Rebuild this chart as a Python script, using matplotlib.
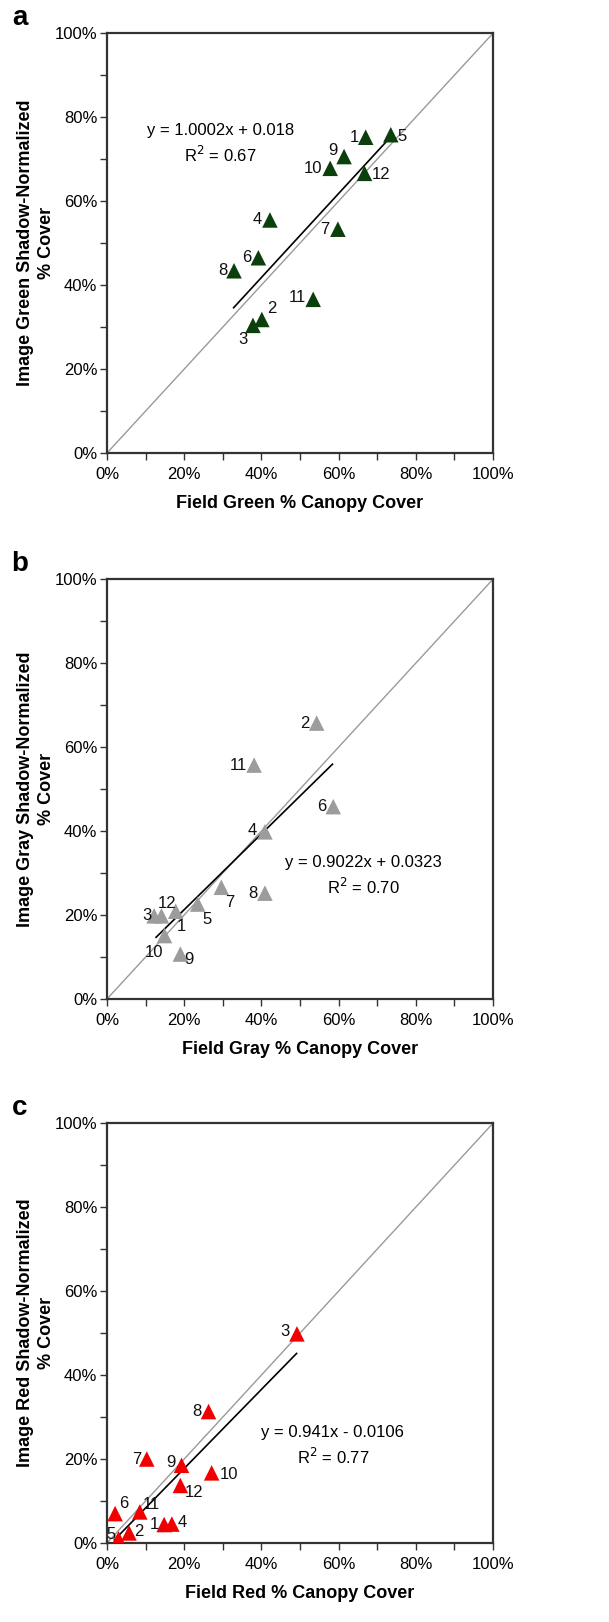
import matplotlib
matplotlib.use("Agg")
import matplotlib.pyplot as plt
import numpy as np
from matplotlib.ticker import MultipleLocator, PercentFormatter

plt.rcParams['font.family'] = ['Liberation Sans', 'DejaVu Sans']

# ---- data (percent) ----
ids = ["1", "2", "3", "4", "5", "6", "7", "8", "9", "10", "11", "12"]

green_field = [67.0, 40.1, 37.8, 42.2, 73.5, 39.2, 59.8, 32.9, 61.4, 57.8, 53.4, 66.7]
green_image = [75.2, 31.8, 30.4, 55.5, 75.8, 46.5, 53.3, 43.4, 70.6, 67.8, 36.6, 66.6]
green_fit = (1.0002, 0.018)
green_fit_range = (32.8, 72.4)
green_r2 = "0.67"

gray_field = [17.8, 54.3, 12.2, 40.9, 23.5, 58.6, 29.6, 40.9, 19.0, 14.9, 38.1, 14.1]
gray_image = [20.9, 65.7, 19.8, 39.8, 22.6, 45.8, 26.6, 25.2, 10.7, 15.1, 55.7, 19.8]
gray_fit = (0.9022, 0.0323)
gray_fit_range = (12.7, 58.4)
gray_r2 = "0.70"

red_field = [14.8, 5.7, 49.2, 16.8, 3.0, 2.1, 10.3, 26.3, 19.3, 27.1, 8.5, 19.0]
red_image = [4.4, 2.4, 49.8, 4.5, 1.0, 7.0, 20.0, 31.3, 18.5, 16.7, 7.4, 13.7]
red_fit = (0.941, -0.0106)
red_fit_range = (1.9, 49.1)
red_r2 = "0.77"

# label offsets (points) and alignment for each point
L, R = 'right', 'left'
green_lab = {"1": (-5, 0, L), "2": (4, 8, R), "3": (-4, -10, L), "4": (-6, 0, L),
             "5": (5, -1, R), "6": (-5, 0, L), "7": (-6, 0, L), "8": (-5, 0, L),
             "9": (-5, 4, L), "10": (-6, 0, L), "11": (-5, 1, L), "12": (5, -1, R)}
gray_lab = {"1": (1, -11, R), "2": (-5, 0, L), "3": (-2, 0, L), "4": (-6, 1, L),
            "5": (3, -11, R), "6": (-5, 0, L), "7": (3, -11, R), "8": (-5, 0, L),
            "9": (3, -4, R), "10": (-1, -12, L), "11": (-5, 0, L), "12": (-3, 9, R)}
red_lab = {"1": (-4, 0, L), "2": (4, 1, R), "3": (-5, 2, L), "4": (4, 1, R),
           "5": (-2, 3, L), "6": (3, 7, R), "7": (-4, 0, L), "8": (-5, 0, L),
           "9": (-4, 2, L), "10": (6, -1, R), "11": (2, 5, R), "12": (3, -5, R)}

panels = [
    ("a", green_field, green_image, green_fit, green_fit_range, green_r2, '#0b3f0b',
     "Image Green Shadow-Normalized\n% Cover", "Field Green % Canopy Cover",
     green_lab, "y = 1.0002x + 0.018", (29.3, 76.9), 0.7207),
    ("b", gray_field, gray_image, gray_fit, gray_fit_range, gray_r2, '#9c9c9c',
     "Image Gray Shadow-Normalized\n% Cover", "Field Gray % Canopy Cover",
     gray_lab, "y = 0.9022x + 0.0323", (66.3, 32.6), 0.3841),
    ("c", red_field, red_image, red_fit, red_fit_range, red_r2, '#f00000',
     "Image Red Shadow-Normalized\n% Cover", "Field Red % Canopy Cover",
     red_lab, "y = 0.941x - 0.0106", (58.5, 26.4), 0.0487),
]

fig = plt.figure(figsize=(6.09, 16.22), dpi=100)

for (letter, xs, ys, fit, frange, r2, color, ylab, xlab, labs, eq, eqpos, bottom) in panels:
    ax = fig.add_axes([0.1757, bottom, 0.634, 0.2589])
    ax.set_xlim(0, 100)
    ax.set_ylim(0, 100)
    ax.plot([0, 100], [0, 100], color='#9a9a9a', lw=1.0, zorder=1)
    fx = np.array(frange)
    ax.plot(fx, (fit[0] * fx / 100 + fit[1]) * 100, color='black', lw=1.2, zorder=2)
    ax.scatter(xs, ys, marker='^', s=125, color=color, edgecolors='none', zorder=3)
    for i, x, y in zip(ids, xs, ys):
        dx, dy, ha = labs[i]
        ax.annotate(i, (x, y), xytext=(dx, dy), textcoords='offset points',
                    ha=ha, va='center', fontsize=12, color='#111111', zorder=4)
    ax.text(eqpos[0], eqpos[1], eq, ha='center', va='center', fontsize=12)
    ax.text(eqpos[0], eqpos[1] - 6.0, "R$^2$ = " + r2, ha='center', va='center', fontsize=12)

    ax.xaxis.set_major_locator(MultipleLocator(20))
    ax.yaxis.set_major_locator(MultipleLocator(20))
    ax.xaxis.set_minor_locator(MultipleLocator(10))
    ax.yaxis.set_minor_locator(MultipleLocator(10))
    ax.xaxis.set_major_formatter(PercentFormatter(100, decimals=0))
    ax.yaxis.set_major_formatter(PercentFormatter(100, decimals=0))
    ax.tick_params(which='both', direction='out', length=5, width=1.0, color='#333333',
                   labelsize=12)
    ax.tick_params(axis='x', pad=5)
    ax.tick_params(axis='y', pad=2)
    for sp in ax.spines.values():
        sp.set_color('#333333')
        sp.set_linewidth(1.6)
    ax.set_ylabel(ylab, fontsize=13, fontweight='bold', linespacing=1.3)
    ax.yaxis.set_label_coords(-0.135, 0.5)
    ax.set_xlabel(xlab, fontsize=13, fontweight='bold')
    ax.xaxis.set_label_coords(0.5, -0.1)
    fig.text(20 / 609, bottom + 0.2589 + 0.0095, letter, fontsize=20, fontweight='bold',
             ha='center', va='center')

fig.savefig("out.png", dpi=100)
